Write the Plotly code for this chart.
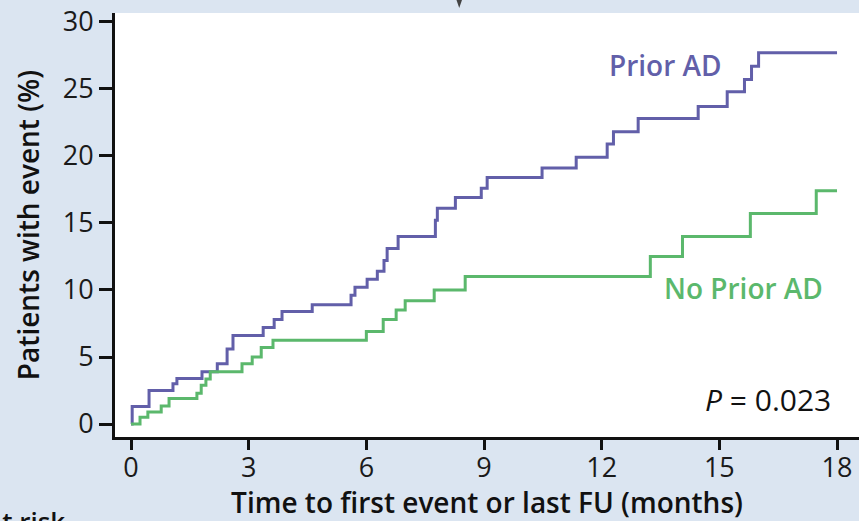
import plotly.graph_objects as go

# Prior AD (purple) step curve: time (months) and cumulative event (%)
prior_t = [0, 0.03, 0.46, 1.07, 1.17, 1.81, 2.2, 2.45, 2.6, 3.37, 3.65, 3.85, 4.62,
           5.61, 5.71, 6.02, 6.28, 6.45, 6.53, 6.81, 7.76, 7.81, 8.27, 8.93, 9.08,
           10.48, 11.35, 12.14, 12.30, 12.93, 14.46, 15.20, 15.64, 15.82, 16.0, 18.0]
prior_v = [0, 1.3, 2.5, 3.0, 3.4, 3.9, 4.5, 5.6, 6.6, 7.2, 7.8, 8.4, 8.9,
           9.6, 10.2, 10.8, 11.4, 12.2, 13.1, 14.0, 15.2, 16.1, 16.9, 17.6, 18.4,
           19.1, 19.9, 20.9, 21.8, 22.8, 23.7, 24.8, 25.7, 26.7, 27.7, 27.7]

# No Prior AD (green) step curve
noprior_t = [0, 0.23, 0.43, 0.77, 0.97, 1.68, 1.79, 1.91, 2.02, 2.83, 3.09, 3.32, 3.62,
             6.0, 6.43, 6.76, 6.99, 7.73, 8.52, 13.24, 14.06, 15.79, 17.47, 18.0]
noprior_v = [0, 0.5, 0.9, 1.35, 1.9, 2.3, 2.9, 3.35, 3.9, 4.5, 5.0, 5.7, 6.25,
             6.9, 7.8, 8.5, 9.2, 10.0, 11.0, 12.5, 14.0, 15.7, 17.4, 17.4]

x_ticks = [0, 3, 6, 9, 12, 15, 18]
y_ticks = [0, 5, 10, 15, 20, 25, 30]

PURPLE = "#625fa9"
GREEN = "#5bb86c"
BG = "#dbe5f1"
FONT = "Open Sans"

fig = go.Figure()
fig.add_trace(go.Scatter(x=prior_t, y=prior_v, mode="lines", line_shape="hv",
                         line=dict(color=PURPLE, width=3), name="Prior AD"))
fig.add_trace(go.Scatter(x=noprior_t, y=noprior_v, mode="lines", line_shape="hv",
                         line=dict(color=GREEN, width=3), name="No Prior AD"))

fig.update_layout(
    width=859, height=521,
    margin=dict(l=115, r=0, t=13, b=84, autoexpand=False),
    paper_bgcolor=BG, plot_bgcolor="white",
    showlegend=False,
    font=dict(family=FONT, color="#1a1a1a"),
)
fig.update_xaxes(
    automargin=False,
    range=[-0.408, 18.56], tickvals=x_ticks, ticktext=[str(v) for v in x_ticks],
    showgrid=False, zeroline=False, showline=True, linecolor="#111", linewidth=3,
    ticks="outside", ticklen=10, tickwidth=3, tickcolor="#111",
    ticklabelstandoff=-5,
    tickfont=dict(size=27, family=FONT, color="#1a1a1a"),
    title=dict(text="Time to first event or last FU (months)",
               font=dict(size=28, family=FONT, color="#111", weight=600)),
)
fig.update_yaxes(
    automargin=False,
    range=[-0.97, 30.67], tickvals=y_ticks, ticktext=[str(v) for v in y_ticks],
    showgrid=False, zeroline=False, showline=True, linecolor="#111", linewidth=3,
    ticks="outside", ticklen=13, tickwidth=3, tickcolor="#111",
    tickfont=dict(size=27, family=FONT, color="#1a1a1a"),
    title=dict(text="Patients with event (%)",
               font=dict(size=28, family=FONT, color="#111", weight=600)),
)

fig.add_annotation(x=12.14, y=26.8, text="Prior AD", showarrow=False,
                   xanchor="left", yanchor="middle",
                   font=dict(size=28, family=FONT, color=PURPLE, weight=600))
fig.add_annotation(x=13.54, y=10.15, text="No Prior AD", showarrow=False,
                   xanchor="left", yanchor="middle",
                   font=dict(size=28, family=FONT, color=GREEN, weight=600))
fig.add_annotation(x=17.9, y=1.8, text="<i>P</i> = 0.023", showarrow=False,
                   xanchor="right", yanchor="middle",
                   font=dict(size=30, family=FONT, color="#111"))
fig.add_annotation(xref="paper", yref="paper", x=-0.178, y=-0.15,
                   text="At risk", showarrow=False, xanchor="left", yanchor="top",
                   font=dict(size=26, family=FONT, color="#111", weight=600))

# small decorative pointer at the top of the panel
fig.add_shape(type="path", xref="paper", yref="paper",
              path="M 0.459 1.0307 L 0.4664 1.0307 L 0.4627 1.0118 Z",
              fillcolor="#444", line=dict(width=0))

fig.write_html("out.html", config={"displayModeBar": False},
               post_script="document.body.style.margin='0';document.body.style.padding='0';")
